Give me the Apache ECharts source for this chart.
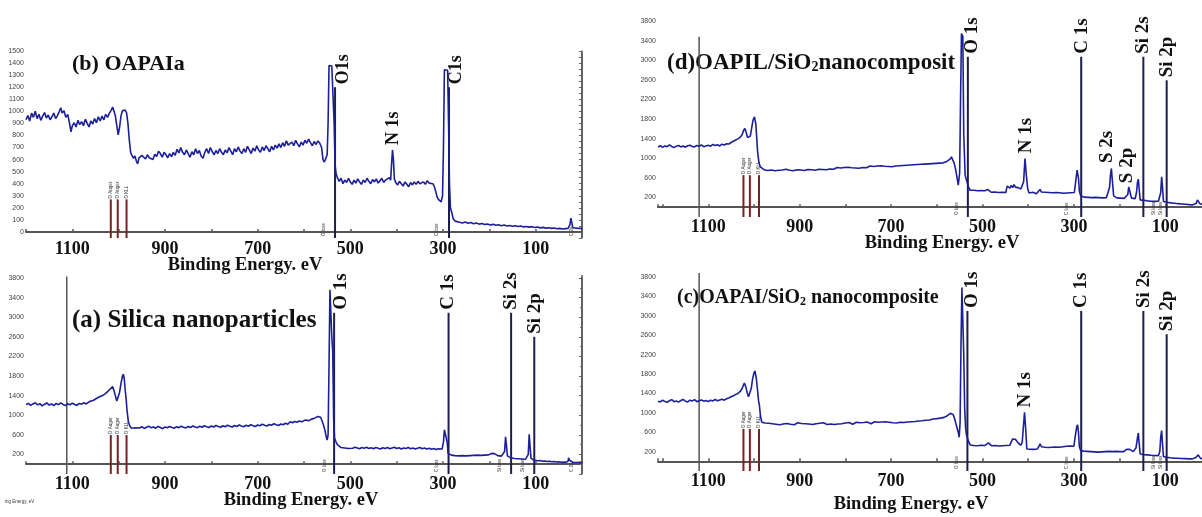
<!DOCTYPE html>
<html>
<head>
<meta charset="utf-8">
<script src="https://cdn.jsdelivr.net/npm/echarts@6/dist/echarts.min.js"></script>
<style>html,body{margin:0;padding:0;background:#fff;}#c{width:1202px;height:517px;}</style>
</head>
<body>
<div id="c"></div>
<script>
// ---------- spectra: [binding energy eV, counts] ----------
const specB = [[1200,930],[1196,965],[1192,920],[1188,985],[1184,950],[1180,1000],[1176,940],[1172,975],[1168,925],[1164,960],[1160,990],[1156,945],[1152,970],[1148,930],[1144,955],[1140,985],[1136,940],[1132,965],[1128,1000],[1125,1030],[1122,985],[1118,1005],[1114,950],[1110,975],[1106,900],[1103,830],[1100,880],[1096,905],[1092,870],[1088,925],[1084,890],[1080,915],[1076,880],[1072,935],[1068,900],[1064,870],[1060,920],[1056,895],[1052,940],[1048,905],[1044,955],[1040,920],[1036,960],[1032,930],[1028,975],[1024,950],[1020,985],[1016,1010],[1013,1035],[1010,1000],[1007,960],[1004,880],[1001,805],[998,870],[995,960],[992,1005],[989,1000],[986,1010],[983,990],[980,900],[977,760],[974,655],[971,640],[968,610],[965,630],[962,590],[959,565],[956,615],[953,600],[950,635],[946,620],[942,605],[938,640],[934,615],[930,630],[926,600],[922,645],[918,625],[914,670],[910,650],[906,620],[902,660],[898,640],[894,615],[890,650],[886,625],[882,660],[878,635],[874,685],[870,655],[866,700],[862,660],[858,640],[854,680],[850,650],[846,620],[842,665],[838,640],[834,690],[830,650],[826,675],[822,630],[818,610],[814,660],[810,690],[806,650],[802,700],[798,665],[794,640],[790,675],[786,650],[782,690],[778,660],[774,640],[770,680],[766,655],[762,700],[758,670],[754,640],[750,690],[746,665],[742,705],[738,670],[734,650],[730,690],[726,660],[722,710],[718,680],[714,650],[710,695],[706,670],[702,715],[698,680],[694,660],[690,705],[686,675],[682,715],[678,690],[674,665],[670,710],[666,680],[662,720],[658,695],[654,730],[650,700],[646,740],[642,710],[638,755],[634,720],[630,705],[626,745],[622,715],[618,760],[614,730],[610,705],[606,745],[602,720],[598,760],[594,735],[590,770],[586,740],[582,715],[578,750],[574,725],[570,755],[566,735],[562,700],[559,600],[556,580],[553,590],[550,640],[548,900],[546,1380],[543,1385],[540,1375],[537,1370],[535,900],[533,560],[531,490],[528,450],[524,420],[520,445],[516,400],[512,430],[508,410],[504,445],[500,415],[496,395],[492,430],[488,405],[484,440],[480,415],[476,395],[472,430],[468,410],[464,445],[460,420],[456,400],[452,435],[448,415],[444,440],[440,405],[436,425],[432,445],[428,410],[424,430],[420,415],[416,450],[413,430],[411,560],[409,680],[407,600],[405,440],[402,410],[398,390],[394,420],[390,400],[386,380],[382,415],[378,395],[374,375],[370,410],[366,390],[362,415],[358,395],[354,420],[350,400],[346,385],[342,415],[338,395],[334,425],[330,405],[326,420],[322,400],[319,380],[316,340],[313,295],[310,270],[307,255],[304,250],[301,300],[299,700],[297,1345],[293,1350],[290,1340],[288,900],[286,400],[284,200],[281,160],[278,110],[274,90],[270,85],[264,80],[258,75],[252,82],[246,72],[240,78],[234,68],[228,74],[222,65],[216,70],[210,62],[204,66],[198,58],[192,63],[186,55],[180,60],[174,52],[168,57],[162,50],[156,54],[150,47],[144,52],[138,45],[132,49],[126,42],[120,46],[114,40],[108,44],[102,37],[96,41],[90,34],[84,38],[78,32],[72,35],[66,30],[60,33],[54,27],[48,30],[42,25],[36,28],[30,30],[26,60],[24,115],[22,80],[20,35],[16,30],[12,32],[8,28],[4,30],[0,30]];

const specA = [[1200,1215],[1195,1240],[1190,1200],[1185,1230],[1180,1255],[1175,1210],[1170,1235],[1165,1190],[1160,1225],[1155,1250],[1150,1205],[1145,1230],[1140,1195],[1135,1240],[1130,1215],[1125,1250],[1120,1220],[1115,1195],[1110,1235],[1105,1210],[1100,1245],[1095,1220],[1090,1200],[1085,1240],[1080,1225],[1075,1255],[1070,1230],[1065,1265],[1060,1290],[1055,1300],[1050,1330],[1045,1355],[1040,1380],[1035,1400],[1030,1430],[1025,1470],[1020,1520],[1016,1560],[1013,1583],[1010,1500],[1007,1390],[1004,1290],[1001,1330],[998,1470],[995,1650],[992,1790],[990,1836],[988,1750],[986,1520],[984,1345],[982,1100],[979,867],[976,780],[972,732],[968,760],[964,745],[960,770],[955,740],[950,765],[945,730],[940,755],[935,775],[930,745],[925,760],[920,735],[915,770],[910,750],[905,725],[900,760],[895,745],[890,770],[885,750],[880,735],[875,765],[870,745],[865,775],[860,755],[855,740],[850,770],[845,750],[840,780],[835,760],[830,745],[825,775],[820,755],[815,785],[810,765],[805,750],[800,780],[795,760],[790,790],[785,770],[780,755],[775,785],[770,765],[765,795],[760,775],[755,760],[750,790],[745,770],[740,800],[735,780],[730,765],[725,795],[720,775],[715,805],[710,785],[705,770],[700,800],[695,785],[690,815],[685,795],[680,780],[675,810],[670,795],[665,825],[660,805],[655,790],[650,820],[645,805],[640,835],[635,815],[630,865],[625,845],[620,870],[615,855],[610,880],[605,865],[600,890],[595,900],[590,885],[585,915],[580,930],[575,950],[570,975],[567,1004],[564,960],[561,880],[558,800],[555,700],[552,560],[550,493],[548,600],[546,2000],[544,3560],[542,3540],[540,2600],[538,2300],[536,900],[534,528],[531,458],[528,400],[524,360],[520,340],[516,355],[512,330],[508,345],[504,320],[500,340],[495,325],[490,345],[485,330],[480,315],[475,340],[470,325],[465,345],[460,320],[455,335],[450,315],[445,340],[440,325],[435,310],[430,335],[425,320],[420,340],[415,315],[410,330],[405,345],[400,320],[395,335],[390,310],[385,330],[380,320],[375,340],[370,315],[365,330],[360,310],[355,325],[350,340],[345,315],[340,330],[335,310],[330,325],[325,305],[320,320],[315,300],[310,315],[306,295],[302,310],[299,450],[297,700],[295,740],[293,720],[291,450],[289,221],[286,200],[282,185],[278,195],[274,175],[270,190],[266,170],[262,185],[258,175],[254,190],[250,170],[246,185],[242,175],[238,165],[234,180],[230,170],[226,185],[222,165],[218,180],[214,170],[210,185],[206,175],[202,190],[198,200],[195,220],[192,241],[189,215],[186,190],[182,175],[178,185],[174,165],[170,160],[167,260],[165,560],[163,380],[161,170],[158,151],[154,130],[150,125],[146,115],[142,125],[138,110],[134,120],[130,105],[126,115],[122,100],[118,110],[116,200],[114,609],[112,350],[110,120],[107,95],[104,84],[100,80],[95,70],[90,75],[85,60],[80,65],[75,55],[70,60],[65,50],[60,55],[55,45],[50,50],[45,40],[40,45],[35,40],[30,60],[29,131],[27,80],[24,45],[20,40],[16,50],[12,35],[8,40],[4,38],[0,35]];

const specD = [[1210,1230],[1205,1255],[1200,1220],[1195,1250],[1190,1235],[1185,1270],[1180,1240],[1175,1215],[1170,1245],[1165,1260],[1160,1230],[1155,1250],[1150,1225],[1145,1255],[1140,1265],[1135,1240],[1130,1230],[1125,1260],[1120,1245],[1115,1270],[1110,1235],[1105,1250],[1100,1265],[1095,1245],[1090,1280],[1085,1260],[1080,1275],[1075,1250],[1070,1285],[1065,1270],[1060,1295],[1055,1290],[1050,1320],[1045,1345],[1040,1370],[1035,1395],[1030,1430],[1026,1480],[1023,1560],[1020,1606],[1017,1530],[1014,1420],[1011,1382],[1008,1450],[1005,1620],[1002,1780],[999,1843],[996,1700],[994,1420],[992,1129],[989,900],[986,823],[982,790],[978,765],[974,780],[970,750],[966,775],[962,760],[958,790],[954,745],[950,770],[946,755],[942,780],[938,760],[934,745],[930,775],[926,790],[922,755],[918,770],[914,745],[910,780],[906,765],[902,790],[898,760],[894,775],[890,750],[886,785],[882,770],[878,795],[874,765],[870,780],[866,755],[862,790],[858,775],[854,800],[850,770],[846,785],[842,765],[838,795],[834,780],[830,805],[826,775],[822,790],[818,810],[814,785],[810,800],[806,780],[802,810],[798,795],[794,815],[790,790],[786,805],[782,820],[778,800],[774,815],[770,795],[766,825],[762,810],[758,830],[754,805],[750,820],[746,840],[742,815],[738,830],[734,810],[730,840],[726,825],[722,845],[718,820],[714,835],[710,855],[706,830],[702,845],[698,825],[694,855],[690,840],[686,860],[682,845],[678,865],[674,850],[670,870],[666,855],[662,875],[658,860],[654,880],[650,865],[646,885],[642,870],[638,890],[634,875],[630,895],[626,880],[622,900],[618,885],[614,905],[610,890],[606,910],[602,895],[598,915],[594,900],[590,920],[586,905],[582,925],[578,935],[574,950],[571,980],[568,1027],[565,990],[562,900],[559,780],[556,620],[553,450],[550,700],[548,2200],[546,3543],[543,3480],[541,1500],[538,650],[535,552],[531,420],[527,349],[523,330],[519,345],[515,320],[511,335],[507,315],[503,340],[499,320],[495,335],[491,310],[488,360],[485,325],[481,305],[477,330],[473,310],[469,325],[465,300],[461,320],[457,305],[453,325],[449,300],[446,430],[443,455],[440,390],[437,445],[434,400],[431,460],[428,410],[425,445],[422,400],[419,430],[416,370],[413,340],[410,520],[407,995],[404,650],[401,370],[398,290],[394,280],[390,305],[386,290],[382,275],[378,300],[374,362],[371,310],[367,285],[363,305],[359,280],[355,300],[351,275],[347,295],[343,285],[339,300],[335,280],[331,295],[327,305],[323,285],[319,300],[315,290],[311,305],[307,295],[303,310],[299,300],[296,530],[293,756],[290,600],[288,330],[285,230],[281,212],[277,205],[273,215],[269,200],[265,210],[261,195],[257,205],[253,200],[249,210],[245,195],[241,205],[237,190],[233,200],[229,195],[225,205],[222,400],[220,650],[218,791],[216,560],[213,230],[210,200],[206,190],[202,198],[198,185],[194,195],[190,180],[186,200],[182,260],[180,416],[177,300],[174,185],[170,179],[166,175],[163,300],[161,500],[159,573],[157,350],[155,150],[151,145],[147,140],[143,135],[139,130],[135,128],[131,122],[127,125],[123,118],[119,115],[115,120],[112,114],[110,300],[108,620],[106,400],[104,115],[100,105],[96,100],[92,95],[88,88],[84,85],[80,80],[76,78],[72,72],[68,70],[64,66],[60,63],[56,60],[52,56],[48,52],[44,50],[40,48],[36,55],[32,80],[30,150],[29,179],[27,140],[24,70],[20,60],[16,55],[12,52],[8,50]];

const specC = [[1210,1240],[1205,1225],[1200,1260],[1195,1235],[1190,1215],[1185,1250],[1180,1270],[1175,1230],[1170,1245],[1165,1220],[1160,1255],[1155,1275],[1150,1240],[1145,1225],[1140,1260],[1135,1245],[1130,1270],[1125,1230],[1120,1250],[1115,1265],[1110,1240],[1105,1255],[1100,1230],[1095,1260],[1090,1245],[1085,1275],[1080,1250],[1075,1265],[1070,1280],[1065,1260],[1060,1290],[1055,1305],[1050,1330],[1045,1350],[1040,1380],[1035,1400],[1030,1440],[1026,1500],[1023,1570],[1021,1613],[1018,1540],[1015,1420],[1012,1330],[1009,1340],[1006,1500],[1003,1700],[1000,1820],[998,1866],[995,1720],[992,1450],[990,1250],[988,1146],[986,950],[983,805],[980,770],[976,790],[972,760],[968,785],[964,750],[960,775],[956,800],[952,765],[948,780],[944,755],[940,790],[936,770],[932,745],[928,780],[924,800],[920,765],[916,785],[912,755],[908,775],[904,795],[900,765],[896,780],[892,750],[888,775],[884,800],[880,770],[876,785],[872,760],[868,790],[864,775],[860,755],[856,785],[852,770],[848,795],[844,775],[840,760],[836,790],[832,770],[828,780],[824,760],[820,785],[816,770],[812,795],[808,775],[804,760],[800,790],[796,775],[792,800],[788,780],[784,765],[780,790],[776,805],[772,780],[768,795],[764,775],[760,800],[756,785],[752,810],[748,790],[744,775],[740,800],[736,815],[732,790],[728,805],[724,785],[720,810],[716,795],[712,815],[708,790],[704,805],[700,820],[696,795],[692,810],[688,790],[684,815],[680,805],[676,820],[672,800],[668,825],[664,810],[660,830],[656,815],[652,835],[648,820],[644,840],[640,830],[636,850],[632,835],[628,855],[624,845],[620,860],[616,850],[612,865],[608,872],[604,860],[600,880],[596,870],[592,890],[588,885],[584,905],[580,920],[577,940],[573,960],[570,990],[567,1023],[564,960],[561,880],[558,770],[556,735],[553,600],[551,496],[549,800],[547,2400],[545,3582],[543,3550],[541,2200],[539,1100],[537,700],[535,540],[531,420],[527,337],[523,350],[519,325],[515,345],[511,320],[507,340],[503,330],[499,350],[495,325],[491,345],[487,379],[484,340],[480,320],[476,345],[472,325],[468,340],[464,315],[460,335],[456,320],[452,345],[448,325],[444,340],[440,330],[437,400],[434,461],[431,430],[428,455],[425,420],[422,380],[419,355],[416,330],[413,400],[411,650],[408,1010],[405,600],[403,255],[400,270],[396,250],[392,265],[388,245],[384,270],[380,255],[377,300],[374,358],[371,300],[368,270],[364,290],[360,300],[356,285],[352,305],[348,290],[344,310],[340,295],[336,305],[332,290],[328,310],[324,300],[320,295],[316,310],[312,300],[308,315],[304,303],[300,310],[297,520],[294,700],[292,755],[290,600],[288,300],[285,220],[283,200],[279,210],[275,195],[271,205],[267,190],[263,200],[259,210],[255,195],[251,205],[247,190],[243,200],[239,195],[235,210],[231,200],[227,190],[223,205],[219,195],[215,200],[211,190],[207,205],[203,195],[199,200],[195,210],[191,200],[187,220],[184,250],[181,270],[178,245],[174,215],[170,200],[167,205],[164,280],[161,480],[159,584],[157,350],[155,152],[151,145],[147,138],[143,140],[139,132],[135,135],[131,125],[127,130],[123,120],[119,125],[115,118],[112,200],[110,500],[108,632],[106,350],[104,100],[101,84],[97,80],[93,75],[89,72],[85,70],[81,66],[77,64],[73,62],[69,60],[65,58],[61,56],[57,55],[53,52],[49,50],[45,52],[41,50],[37,55],[33,80],[30,120],[28,132],[26,100],[23,60],[20,55],[16,52],[12,50]];

// ---------- annotations ----------
// markers: [line eV, line top counts, label eV, text]
const markersB = [[533,1200,516,'O1s'],[287,1200,272,'C1s']];
const markersA = [[535,3090,519,'O 1s'],[288,3090,288,'C 1s'],[153,3090,153,'Si 2s'],[103,2600,102,'Si 2p']];
const markersD = [[532,3070,522,'O 1s'],[284,3070,283,'C 1s'],[148,3070,148,'Si 2s'],[97,2590,97,'Si 2p']];
const markersC = [[533,3100,522,'O 1s'],[284,3100,284,'C 1s'],[148,3100,147,'Si 2s'],[97,2620,96,'Si 2p']];
// peak labels without line: [eV, label bottom counts, text]
const peaksB = [[408,720,'N 1s']];
const peaksA = [];
const peaksD = [[405,1100,'N 1s'],[228,900,'S 2s'],[184,490,'S 2p']];
const peaksC = [[407,1110,'N 1s']];
// Auger markers: [eV, top counts, text]
const augerB = [[1017,270,'O Auger'],[1002,270,'O Auger'],[983,270,'O KLL']];
const augerA = [[1017,595,'O Auger'],[1002,595,'O Auger'],[983,595,'O KLL']];
const augerD = [[1023,654,'O Auger'],[1009,654,'O Auger'],[989,654,'O KLL']];
const augerC = [[1023,667,'O Auger'],[1009,667,'O Auger'],[989,667,'O KLL']];
// reference lines: [eV, top counts]
const refB = [[0,1490]];
const refA = [[1112,3830],[0,3860]];
const refD = [[1120,3480]];
const refC = [[1120,3880]];
// tiny loss labels: [eV, text]
const tinyB = [[558,'O loss'],[313,'C loss'],[22,'C 2s']];
const tinyA = [[555,'O loss'],[313,'C loss'],[178,'Si loss'],[128,'Si loss'],[22,'C 2s']];
const tinyD = [[556,'O loss'],[315,'C loss'],[125,'Si loss'],[110,'Si loss']];
const tinyC = [[556,'O loss'],[315,'C loss'],[125,'Si loss'],[110,'Si loss']];

const xTickLabels = [1100,900,700,500,300,100];
const yTickLabelsB = [0,100,200,300,400,500,600,700,800,900,1000,1100,1200,1300,1400,1500];
const yTickLabelsSi = [200,600,1000,1400,1800,2200,2600,3000,3400,3800];

// ---------- styles ----------
const SERIF = '"Liberation Serif","Times New Roman",serif';
const BLUE = '#1c1f9a';
const STY = {
  m: {stroke:'#1d1d4e', lw:2, gap:3, fill:'#111'},
  p: {gap:0, fill:'#111'},
  a: {stroke:'#7a2020', lw:2, gap:1, fill:'#333', font:'4.5px "Liberation Sans",sans-serif'},
  r: {stroke:'#555', lw:1.5},
  t: {gap:2, fill:'#333', font:'4.5px "Liberation Sans",sans-serif'}
};

function annot(idx, yMin, labelPx, o) {
  const items = [];
  o.markers.forEach(m => items.push({k:'m', e:m[0], v:m[1], le:m[2], t:m[3]}));
  o.peaks.forEach(p => items.push({k:'p', e:p[0], v:p[1], le:p[0], t:p[2]}));
  o.auger.forEach(a => items.push({k:'a', e:a[0], v:a[1], le:a[0], t:a[2]}));
  o.ref.forEach(r => items.push({k:'r', e:r[0], v:r[1]}));
  o.tiny.forEach(t => items.push({k:'t', e:t[0], v:yMin, le:t[0], t:t[1]}));
  return {
    type:'custom', xAxisIndex:idx, yAxisIndex:idx, silent:true, animation:false, z:3,
    data: items.map(it => [it.e, it.v]),
    renderItem: function (params, api) {
      const it = items[params.dataIndex];
      const st = STY[it.k];
      const top = api.coord([it.e, it.v]);
      const bot = api.coord([it.e, yMin]);
      const ch = [];
      if (st.stroke) {
        ch.push({type:'line', shape:{x1:top[0], y1:bot[1], x2:top[0], y2:top[1]},
                 style:{stroke:st.stroke, lineWidth:st.lw}});
      }
      if (it.t) {
        const lp = api.coord([it.le, it.v]);
        ch.push({type:'text', x:lp[0], y:lp[1] - st.gap, rotation:Math.PI/2,
                 style:{text:it.t, x:0, y:0, align:'left', verticalAlign:'middle',
                        font: st.font || ('bold ' + labelPx + 'px ' + SERIF), fill:st.fill}});
      }
      return {type:'group', children:ch};
    }
  };
}

function xAx(idx, max, margin) {
  return {
    type:'value', gridIndex:idx, min:0, max:max, interval:100, inverse:true,
    axisLine:{show:true, lineStyle:{color:'#555', width:2}},
    axisTick:{show:true, inside:true, length:3, lineStyle:{color:'#555', width:1.5}},
    axisLabel:{formatter: v => (xTickLabels.indexOf(v) >= 0 ? String(v) : ''),
               color:'#111', fontFamily:SERIF, fontWeight:'bold', fontSize:18, margin:margin},
    splitLine:{show:false}
  };
}
function yAx(idx, min, max, interval, labels, minor) {
  return {
    type:'value', gridIndex:idx, min:min, max:max, interval:interval,
    axisLine:{show:true, lineStyle:{color:'#666', width:1.5}},
    axisTick:{show:true, length:3, lineStyle:{color:'#666', width:1}},
    minorTick: minor ? {show:true, splitNumber:2, length:2, lineStyle:{color:'#777'}} : {show:false},
    axisLabel:{formatter: v => (labels.indexOf(v) >= 0 ? String(v) : ''),
               fontSize:7, color:'#444', margin:2, fontFamily:'"Liberation Sans",sans-serif'},
    splitLine:{show:false}, minorSplitLine:{show:false}
  };
}
function spec(idx, data) {
  return {type:'line', xAxisIndex:idx, yAxisIndex:idx, data:data, showSymbol:false, symbol:'none',
          silent:true, animation:false, z:4, lineStyle:{color:BLUE, width:1.6}};
}
function txt(x, y, text, size, align) {
  return {type:'text', x:x, y:y, silent:true,
          style:{text:text, font:'bold ' + size + 'px ' + SERIF, fill:'#111',
                 align:align || 'left', verticalAlign:'middle'}};
}
function richTitle(x, y, a, b, size) {
  return {type:'text', x:x, y:y, silent:true,
          style:{text:'{n|' + a + '}{s|2}{n|' + b + '}', align:'left', verticalAlign:'middle',
                 rich:{n:{font:'bold ' + size + 'px ' + SERIF, fill:'#111'},
                       s:{font:'bold ' + Math.round(size*0.62) + 'px ' + SERIF, fill:'#111', verticalAlign:'bottom'}}}};
}

const chart = echarts.init(document.getElementById('c'), null, {renderer:'canvas'});
chart.setOption({
  backgroundColor:'#fff',
  animation:false,
  grid:[
    {left:26, top:51, width:556, height:187, outerBoundsMode:'none'},
    {left:26, top:278, width:556, height:196, outerBoundsMode:'none'},
    {left:658, top:21, width:553, height:196, outerBoundsMode:'none'},
    {left:658, top:277, width:553, height:194, outerBoundsMode:'none'}
  ],
  xAxis:[xAx(0,1200,2), xAx(1,1200,1), xAx(2,1210,1), xAx(3,1210,1)],
  yAxis:[yAx(0,-50,1500,50,yTickLabelsB,false), yAx(1,-200,3800,400,yTickLabelsSi,true),
         yAx(2,-200,3800,400,yTickLabelsSi,true), yAx(3,-200,3800,400,yTickLabelsSi,true)],
  series:[
    annot(0,-50,18,{markers:markersB, peaks:peaksB, auger:augerB, ref:refB, tiny:tinyB}),
    annot(1,-200,19,{markers:markersA, peaks:peaksA, auger:augerA, ref:refA, tiny:tinyA}),
    annot(2,-200,19,{markers:markersD, peaks:peaksD, auger:augerD, ref:refD, tiny:tinyD}),
    annot(3,-200,19,{markers:markersC, peaks:peaksC, auger:augerC, ref:refC, tiny:tinyC}),
    spec(0,specB), spec(1,specA), spec(2,specD), spec(3,specC)
  ],
  graphic:[
    txt(72,64,'(b) OAPAIa',22),
    txt(72,321,'(a) Silica nanoparticles',25),
    richTitle(667,63,'(d)OAPIL/SiO','nanocomposit',23),
    richTitle(677,298,'(c)OAPAI/SiO',' nanocomposite',20),
    txt(245,265,'Binding Energy. eV',18.5,'center'),
    txt(301,500,'Binding Energy. eV',18.5,'center'),
    txt(942,243,'Binding Energy. eV',18.5,'center'),
    txt(911,504,'Binding Energy. eV',18.5,'center'),
    {type:'text', x:5, y:502, silent:true,
     style:{text:'ing Energy, eV', font:'4.5px "Liberation Sans",sans-serif', fill:'#333', verticalAlign:'middle'}}
  ]
});
</script>
</body>
</html>
